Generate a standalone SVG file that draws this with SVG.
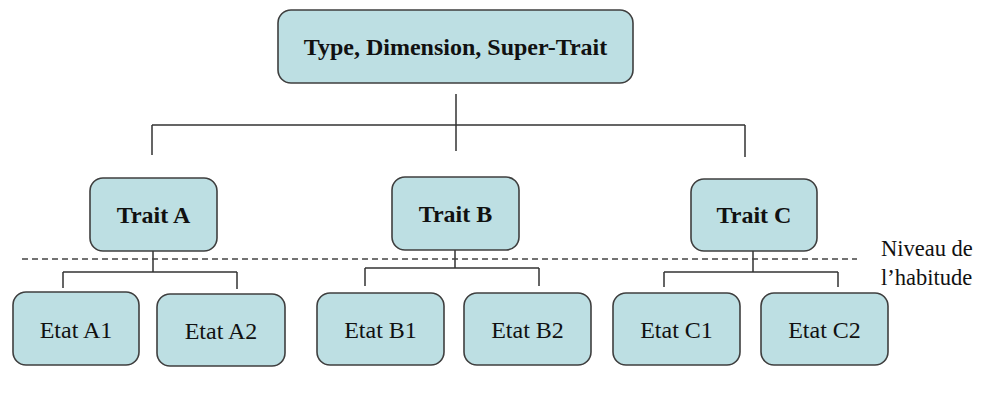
<svg xmlns="http://www.w3.org/2000/svg" width="986" height="401" viewBox="0 0 986 401">
<style>
.box{fill:#bddfe3;stroke:#3f3f3f;stroke-width:1.6}
.t{fill:#111;text-anchor:middle}
.b{font-weight:bold;font-size:24px}
.r{font-size:24px}
.ln{stroke:#333;stroke-width:1.5;fill:none}
.dash{stroke:#444;stroke-width:1.5;stroke-dasharray:6,4;fill:none}
.lbl{font-size:22.5px;fill:#111}
</style>
<rect width="986" height="401" fill="#fff"/>
<g id="connectors">
<path class="ln" d="M456,94V151M152,125H745M152,125V155M745,125V157"/>
<path class="ln" d="M153,251V272M63,272H237M63,272V288M237,272V289"/>
<path class="ln" d="M455,250V268M365,268H539M365,268V286M539,268V286"/>
<path class="ln" d="M753,251V272M664,272H838M664,272V287M838,272V287"/>
<path class="dash" d="M22,259H857"/>
</g>
<g font-family="'Liberation Serif', 'DejaVu Serif', serif">
<g id="top"><rect class="box" x="278" y="10" width="355" height="73" rx="13"/><text class="t b" x="455.5" y="55">Type, Dimension, Super-Trait</text></g>
<g id="traitA"><rect class="box" x="90" y="178" width="127" height="73" rx="13"/><text class="t b" x="153.5" y="223">Trait A</text></g>
<g id="traitB"><rect class="box" x="392" y="177" width="127" height="73" rx="13"/><text class="t b" x="455.5" y="222">Trait B</text></g>
<g id="traitC"><rect class="box" x="691" y="179" width="126" height="72" rx="13"/><text class="t b" x="754" y="223">Trait C</text></g>
<g id="etatA1"><rect class="box" x="13" y="292" width="126" height="73" rx="13"/><text class="t r" x="76" y="338">Etat A1</text></g>
<g id="etatA2"><rect class="box" x="157" y="294" width="128" height="72" rx="13"/><text class="t r" x="221" y="339">Etat A2</text></g>
<g id="etatB1"><rect class="box" x="317" y="293" width="127" height="72" rx="13"/><text class="t r" x="380.5" y="338">Etat B1</text></g>
<g id="etatB2"><rect class="box" x="464" y="293" width="127" height="72" rx="13"/><text class="t r" x="527.5" y="338">Etat B2</text></g>
<g id="etatC1"><rect class="box" x="613" y="293" width="127" height="72" rx="13"/><text class="t r" x="676.5" y="338">Etat C1</text></g>
<g id="etatC2"><rect class="box" x="761" y="293" width="127" height="72" rx="13"/><text class="t r" x="824.5" y="338">Etat C2</text></g>
<g id="label"><text class="lbl" x="881" y="256">Niveau de</text><text class="lbl" x="881" y="285">l’habitude</text></g>
</g>
</svg>
